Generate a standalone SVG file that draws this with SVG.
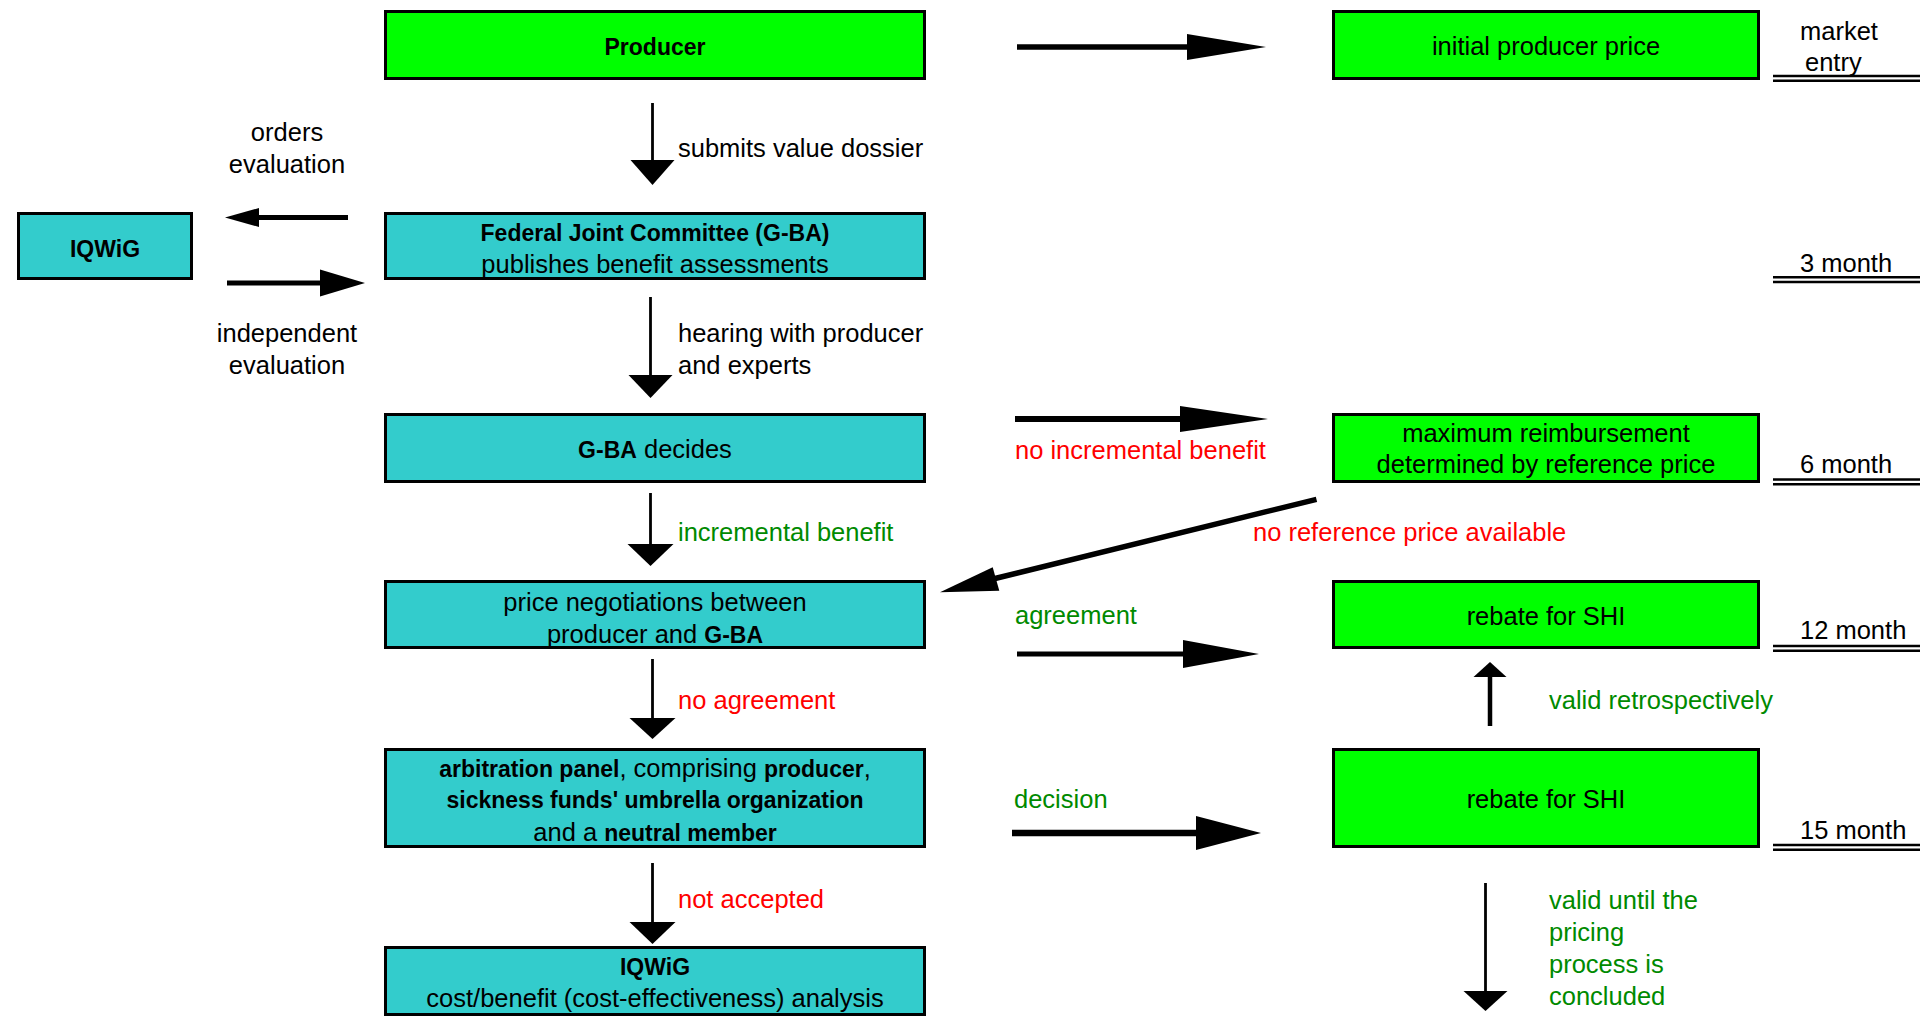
<svg xmlns="http://www.w3.org/2000/svg" width="1920" height="1016" viewBox="0 0 1920 1016">
<style>
text{font-family:"Liberation Sans",Arial,sans-serif;font-size:25.5px;fill:#000}
.c{text-anchor:middle}
.b{font-weight:bold;font-size:23px}
.red{fill:#ff0000}
.grn{fill:#008a00}
.box{stroke:#000;stroke-width:3}
.g{fill:#00ff00}
.t{fill:#33cccc}
.ln{stroke:#000;fill:none}
.hd{fill:#000}
.tl{stroke:#000;stroke-width:2.6}
</style>
<rect width="1920" height="1016" fill="#fff"/>

<g id="producer"><rect class="box g" x="385.5" y="11.5" width="539" height="67"/><text class="c b" x="655" y="54.5">Producer</text></g>
<g id="gba"><rect class="box t" x="385.5" y="213.5" width="539" height="65"/><text class="c b" x="655" y="240.5">Federal Joint Committee (G-BA)</text><text class="c" x="655" y="272.5">publishes benefit assessments</text></g>
<g id="iqwig1"><rect class="box t" x="18.5" y="213.5" width="173" height="65"/><text class="c b" x="105" y="256.5">IQWiG</text></g>
<g id="decides"><rect class="box t" x="385.5" y="414.5" width="539" height="67"/><text class="c" x="655" y="457.5"><tspan class="b">G-BA</tspan> decides</text></g>
<g id="negotiations"><rect class="box t" x="385.5" y="581.5" width="539" height="66"/><text class="c" x="655" y="610.5">price negotiations between</text><text class="c" x="655" y="642.5">producer and <tspan class="b">G-BA</tspan></text></g>
<g id="arbitration"><rect class="box t" x="385.5" y="749.5" width="539" height="97"/><text class="c" x="655" y="776.5"><tspan class="b">arbitration panel</tspan>, comprising <tspan class="b">producer</tspan>,</text><text class="c b" x="655" y="807.5">sickness funds' umbrella organization</text><text class="c" x="655" y="840.5">and a <tspan class="b">neutral member</tspan></text></g>
<g id="iqwig2"><rect class="box t" x="385.5" y="947.5" width="539" height="67"/><text class="c b" x="655" y="974.5">IQWiG</text><text class="c" x="655" y="1007">cost/benefit (cost-effectiveness) analysis</text></g>

<g id="initial-price"><rect class="box g" x="1333.5" y="11.5" width="425" height="67"/><text class="c" x="1546" y="54.5">initial producer price</text></g>
<g id="max-reimbursement"><rect class="box g" x="1333.5" y="414.5" width="425" height="67"/><text class="c" x="1546" y="441.5">maximum reimbursement</text><text class="c" x="1546" y="472.5">determined by reference price</text></g>
<g id="rebate1"><rect class="box g" x="1333.5" y="581.5" width="425" height="66"/><text class="c" x="1546" y="624.5">rebate for SHI</text></g>
<g id="rebate2"><rect class="box g" x="1333.5" y="749.5" width="425" height="97"/><text class="c" x="1546" y="807.5">rebate for SHI</text></g>

<g id="timeline">
<text x="1800" y="39.5">market</text><text x="1805" y="70.5">entry</text>
<line class="tl" x1="1773" y1="76" x2="1920" y2="76"/><line class="tl" x1="1773" y1="80.7" x2="1920" y2="80.7"/>
<text x="1800" y="272">3 month</text>
<line class="tl" x1="1773" y1="277.3" x2="1920" y2="277.3"/><line class="tl" x1="1773" y1="282" x2="1920" y2="282"/>
<text x="1800" y="472.5">6 month</text>
<line class="tl" x1="1773" y1="479.5" x2="1920" y2="479.5"/><line class="tl" x1="1773" y1="484.2" x2="1920" y2="484.2"/>
<text x="1800" y="639">12 month</text>
<line class="tl" x1="1773" y1="646" x2="1920" y2="646"/><line class="tl" x1="1773" y1="650.7" x2="1920" y2="650.7"/>
<text x="1800" y="838.5">15 month</text>
<line class="tl" x1="1773" y1="845" x2="1920" y2="845"/><line class="tl" x1="1773" y1="849.7" x2="1920" y2="849.7"/>
</g>

<g id="connectors">
<line class="ln" stroke-width="5.3" x1="1017" y1="47" x2="1190" y2="47"/><polygon class="hd" points="1187,34 1266,47 1187,60"/>
<line class="ln" stroke-width="2.8" x1="652.5" y1="103" x2="652.5" y2="162"/><polygon class="hd" points="630.5,160 674.5,160 652.5,185"/>
<line class="ln" stroke-width="5" x1="348" y1="217.5" x2="256" y2="217.5"/><polygon class="hd" points="259,208 225,217.5 259,227"/>
<line class="ln" stroke-width="5" x1="227" y1="283" x2="323" y2="283"/><polygon class="hd" points="320,269.5 365,283 320,296.5"/>
<line class="ln" stroke-width="2.8" x1="650.5" y1="297" x2="650.5" y2="378"/><polygon class="hd" points="628.5,375 672.5,375 650.5,398"/>
<line class="ln" stroke-width="6" x1="1015" y1="419" x2="1183" y2="419"/><polygon class="hd" points="1180,406 1268,419 1180,432"/>
<line class="ln" stroke-width="2.8" x1="650.5" y1="493" x2="650.5" y2="547"/><polygon class="hd" points="627.5,544 673.5,544 650.5,566"/>
<line class="ln" stroke-width="5.5" x1="1316.5" y1="499.3" x2="993" y2="579"/><polygon class="hd" points="992.7,567.3 940,592.3 999.3,590.7"/>
<line class="ln" stroke-width="4.8" x1="1017" y1="654" x2="1186" y2="654"/><polygon class="hd" points="1183,640 1259,654 1183,668"/>
<line class="ln" stroke-width="4.5" x1="1490" y1="726" x2="1490" y2="674"/><polygon class="hd" points="1473.5,677 1490,662 1506.5,677"/>
<line class="ln" stroke-width="2.8" x1="652.5" y1="659" x2="652.5" y2="720"/><polygon class="hd" points="629.5,718 675.5,718 652.5,739"/>
<line class="ln" stroke-width="6.7" x1="1012" y1="833" x2="1199" y2="833"/><polygon class="hd" points="1196,816 1261,833 1196,850"/>
<line class="ln" stroke-width="2.8" x1="652.5" y1="863" x2="652.5" y2="925"/><polygon class="hd" points="629.5,922 675.5,922 652.5,944"/>
<line class="ln" stroke-width="2.8" x1="1485.5" y1="883" x2="1485.5" y2="994"/><polygon class="hd" points="1463.5,991 1507.5,991 1485.5,1011"/>
</g>

<g id="labels">
<text x="678" y="156.5">submits value dossier</text>
<text class="c" x="287" y="140.5">orders</text><text class="c" x="287" y="172.5">evaluation</text>
<text class="c" x="287" y="341.5">independent</text><text class="c" x="287" y="373.5">evaluation</text>
<text x="678" y="341.5">hearing with producer</text><text x="678" y="373.5">and experts</text>
<text class="red" x="1015" y="458.5">no incremental benefit</text>
<text class="grn" x="678" y="540.5">incremental benefit</text>
<text class="red" x="1253" y="540.5">no reference price available</text>
<text class="grn" x="1015" y="623.5">agreement</text>
<text class="red" x="678" y="708.5">no agreement</text>
<text class="grn" x="1549" y="708.5">valid retrospectively</text>
<text class="grn" x="1014" y="807.5">decision</text>
<text class="red" x="678" y="907.5">not accepted</text>
<text class="grn" x="1549" y="908.5">valid until the</text>
<text class="grn" x="1549" y="940.5">pricing</text>
<text class="grn" x="1549" y="972.5">process is</text>
<text class="grn" x="1549" y="1004.5">concluded</text>
</g>
</svg>
